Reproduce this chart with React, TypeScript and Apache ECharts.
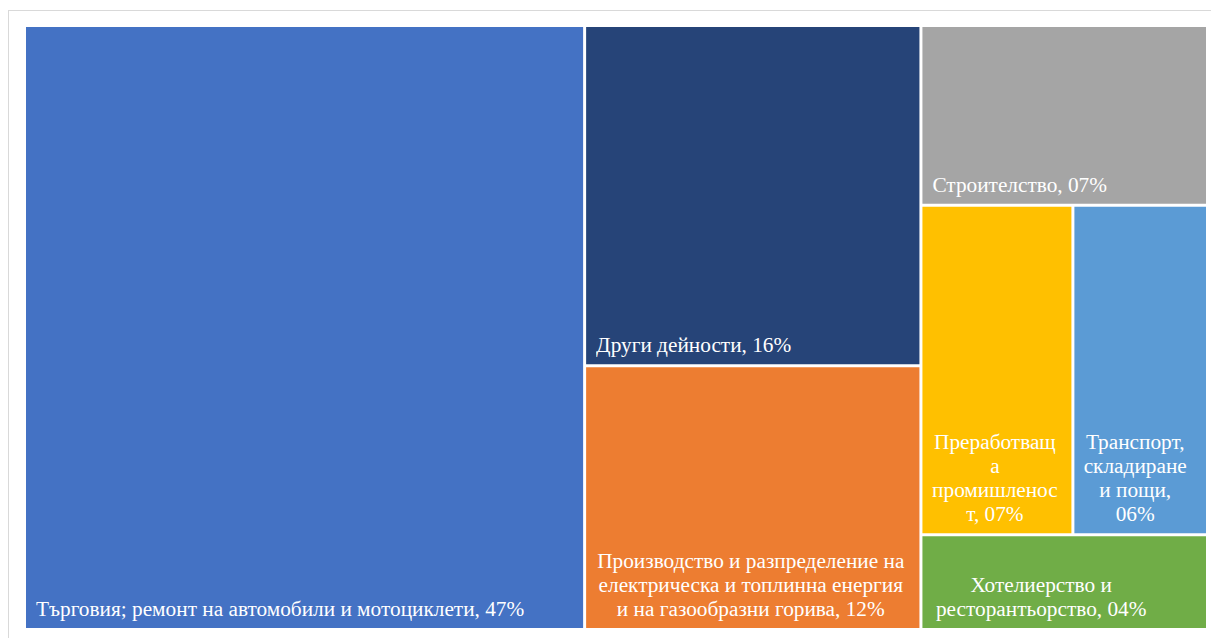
import React, { useEffect, useRef } from "react";
import * as echarts from "echarts";

// Sectors (Bulgarian), share in %
const categories = [
  "Търговия; ремонт на автомобили и мотоциклети",
  "Други дейности",
  "Производство и разпределение на електрическа и топлинна енергия и на газообразни горива",
  "Строителство",
  "Преработваща промишленост",
  "Транспорт, складиране и пощи",
  "Хотелиерство и ресторантьорство",
];
const shares = [47.3, 16.0, 12.4, 7.2, 7.0, 6.2, 3.8];

// Label text as wrapped in the original ({p} = rounded share)
const labelTemplates = [
  "Търговия; ремонт на автомобили и мотоциклети, {p}",
  "Други дейности, {p}",
  "Производство и разпределение на\nелектрическа и топлинна енергия\nи на газообразни горива, {p}",
  "Строителство, {p}",
  "Преработващ\nа\nпромишленос\nт, {p}",
  "Транспорт,\nскладиране\nи пощи,\n{p}",
  "Хотелиерство и\nресторантьорство, {p}",
];

// Styles
const colors = ["#4472C4", "#264478", "#ED7D31", "#A5A5A5", "#FFC000", "#5B9BD5", "#70AD47"];
const labelPositions = ["insideBottomLeft", "insideBottomLeft", "insideBottom", "insideBottomLeft", "insideBottom", "insideBottom", "insideBottom"];
const labelOffsets = [0, 0, -2, 0, -2, -5, -23];

const FONT = "'Liberation Serif', 'Times New Roman', serif";

function fmtPct(v: number): string {
  return String(Math.round(v)).padStart(2, "0") + "%";
}

export default function App() {
  const ref = useRef<HTMLDivElement>(null);

  useEffect(() => {
    if (!ref.current) return;
    const chart = echarts.init(ref.current, undefined, { renderer: "svg" });

    const data = categories.map((name, i) => ({
      name,
      value: shares[i],
      itemStyle: { color: colors[i] },
      label: {
        position: labelPositions[i] as any,
        offset: [labelOffsets[i], 0],
      },
    }));

    chart.setOption({
      animation: false,
      series: [
        {
          type: "treemap",
          left: 17,
          top: 16,
          width: 1180,
          height: 601,
          squareRatio: 1.24,
          sort: "desc",
          roam: false,
          nodeClick: false,
          silent: true,
          breadcrumb: { show: false },
          upperLabel: { show: false },
          levels: [
            { itemStyle: { gapWidth: 3, borderWidth: 0, borderColor: "#ffffff" } },
            { itemStyle: { gapWidth: 0, borderWidth: 0 } },
          ],
          itemStyle: { borderWidth: 0, gapWidth: 0 },
          label: {
            show: true,
            position: "insideBottomLeft",
            distance: 0,
            color: "#ffffff",
            fontFamily: FONT,
            fontSize: 21.3,
            lineHeight: 24,
            padding: [0, 10, 7, 10],
            overflow: "none",
            formatter: (p: any) => {
              const idx = categories.indexOf(p.name);
              const tpl = idx >= 0 ? labelTemplates[idx] : p.name + ", {p}";
              return tpl.replace("{p}", fmtPct(p.value));
            },
          },
          emphasis: { disabled: true },
          data,
        },
      ],
    });

    return () => chart.dispose();
  }, []);

  return (
    <div
      style={{
        position: "fixed",
        left: 8,
        top: 10,
        width: 1230,
        height: 650,
        border: "1px solid #d9d9d9",
        background: "#ffffff",
        boxSizing: "content-box",
      }}
    >
      <div ref={ref} style={{ width: 1230, height: 650 }} />
    </div>
  );
}
